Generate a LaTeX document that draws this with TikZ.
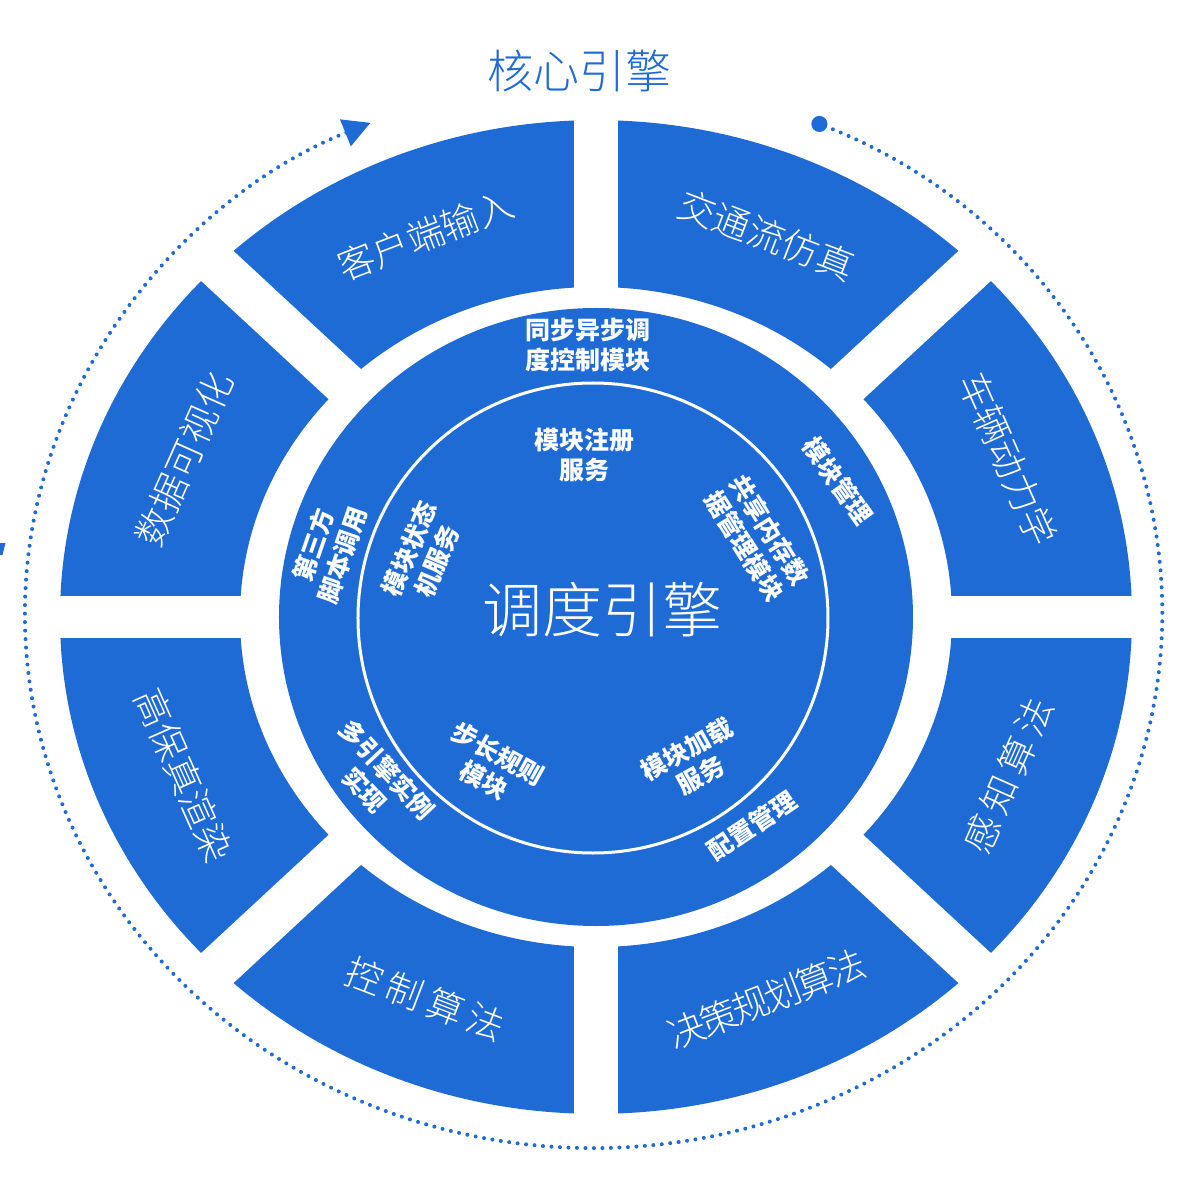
\documentclass[tikz,border=0pt]{standalone}
\usepackage{fontspec}
\usepackage{tikz}
\usetikzlibrary{arrows.meta}
\setmainfont{Noto Sans CJK SC}
\newfontfamily\thincjk{Noto Sans CJK SC Light}
\definecolor{coreblue}{HTML}{1E6BD6}
\tikzstyle{segfill} = [fill=coreblue]
\tikzstyle{cut} = [draw=white,line width=44pt]
\tikzstyle{seglabel} = [text=white,inner sep=0,font=\thincjk\fontsize{37}{40}\selectfont]
\tikzstyle{widelabel} = [text=white,inner sep=0,font=\thincjk\fontsize{37}{40}\selectfont\addfontfeature{LetterSpace=16}]
\tikzstyle{narrowlabel} = [text=white,inner sep=0,font=\thincjk\fontsize{37}{40}\selectfont\addfontfeature{LetterSpace=-7}]
\tikzstyle{ringlabel} = [text=white,inner sep=0,align=center,font=\fontsize{25}{30}\selectfont\bfseries]
\tikzstyle{flow} = [draw=coreblue,line width=4pt,line cap=round,dash pattern=on 0pt off 8.5pt]
\def \sq {0.927}
\def \rmid {446}

\begin{document}
\begin{tikzpicture}[x=1pt,y=1pt]
  \useasboundingbox (-596,-580) rectangle (601,617);
  \node[text=coreblue,inner sep=0,font=\thincjk\fontsize{46}{50}\selectfont] (title) at (-16,546) {核心引擎};
  \draw[flow,{Circle[length=16pt]}-{Triangle[length=27pt,width=28pt]}] ([shift={(-2.5,3)}]67.4:568.5 and 534) arc[start angle=67.4,end angle=-246.9,x radius=568.5,y radius=534];
  \fill[coreblue] (-606,74) -- (-590.5,74) -- (-593.5,62) -- (-606,62) -- cycle;
  \begin{scope}[yscale=\sq]
    \fill[segfill,even odd rule] (0,0) circle[radius=536] (0,0) circle[radius=356];
    \draw[cut,line width=42pt] (-545,0) -- (545,0);
    \draw[cut] (0,-545) -- (0,545);
    \draw[cut] (-395,-395) -- (395,395);
    \draw[cut] (-395,395) -- (395,-395);
    \node[seglabel,rotate=21] (client) at (112.5:\rmid) {客户端输入};
    \node[seglabel,rotate=-21] (traffic) at (67.5:\rmid) {交通流仿真};
    \node[seglabel,rotate=-66] (vehicle) at (22.5:\rmid) {车辆动力学};
    \node[widelabel,rotate=66] (percept) at (-22.5:\rmid) {感知算法};
    \node[narrowlabel,rotate=21] (planning) at (-67.5:\rmid) {决策规划算法};
    \node[widelabel,rotate=-21] (control) at (-112.5:\rmid) {控制算法};
    \node[seglabel,rotate=-66] (render) at (-157.5:\rmid) {高保真渲染};
    \node[seglabel,rotate=66] (visual) at (157.5:\rmid) {数据可视化};
  \end{scope}
  \fill[segfill] (0,0) ellipse[x radius=317,y radius=309];
  \draw[white,line width=3pt] (-3,-1) circle[radius=235];
  \node[text=white,inner sep=0,font=\thincjk\fontsize{60}{64}\selectfont] (engine) at (6.5,7) {调度引擎};
  \node[ringlabel] (sync) at (-8,272) {同步异步调\\度控制模块};
  \node[ringlabel] (regsvc) at (-11,162) {模块注册\\服务};
  \node[ringlabel,rotate=-55] (modmgr) at (242,136) {模块管理};
  \node[ringlabel,rotate=-58] (shmem) at (161,79) {共享内存数\\据管理模块};
  \node[ringlabel,rotate=71] (script) at (-268,67) {第三方\\脚本调用};
  \node[ringlabel,rotate=67] (fsm) at (-173,62) {模块状态\\机服务};
  \node[ringlabel,rotate=-47] (multi) at (-220,-163) {多引擎实例\\实现};
  \node[ringlabel,rotate=-29] (stepmod) at (-105,-150) {步长规则\\模块};
  \node[ringlabel,rotate=29] (loadsvc) at (98,-145) {模块加载\\服务};
  \node[ringlabel,rotate=34] (config) at (156,-209) {配置管理};
\end{tikzpicture}
\end{document}
